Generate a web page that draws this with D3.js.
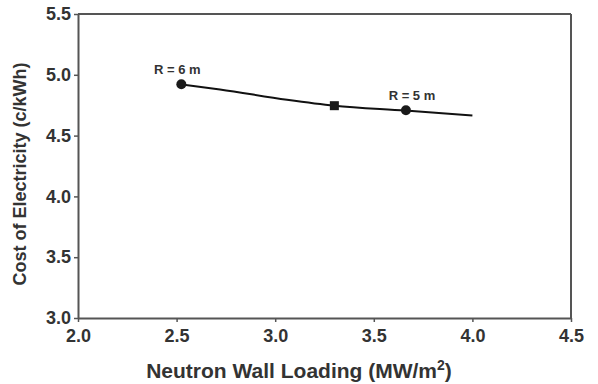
<!DOCTYPE html>
<html>
<head>
<meta charset="utf-8">
<script src="https://cdn.jsdelivr.net/npm/d3@7"></script>
<style>
  body { margin: 0; background: #fff; }
  text { font-family: "Liberation Sans", Arial, sans-serif; font-weight: bold; }
</style>
</head>
<body>
<div id="chart"></div>
<script>
// curve: neutron wall loading vs cost of electricity
const curveX = [2.52, 2.72, 3.06, 3.30, 3.66, 4.0];
const curveY = [4.922, 4.88, 4.795, 4.746, 4.706, 4.665];

const circleX = [2.524, 3.663];
const circleY = [4.922, 4.708];
const circleLabels = ["R = 6 m", "R = 5 m"];

const squareX = [3.30];
const squareY = [4.746];

const xTicks = [2.0, 2.5, 3.0, 3.5, 4.0, 4.5];
const yTicks = [3.0, 3.5, 4.0, 4.5, 5.0, 5.5];

const W = 598, H = 384;
const margin = { top: 14, right: 27, bottom: 66, left: 78 };

const svg = d3.select("#chart").append("svg")
  .attr("width", W).attr("height", H);

const x = d3.scaleLinear().domain([2.0, 4.5]).range([margin.left, W - margin.right]);
const y = d3.scaleLinear().domain([3.0, 5.5]).range([H - margin.bottom, margin.top]);

const axisColor = "#555";

// frame lines (top, right)
svg.append("line")
  .attr("x1", x(2.0)).attr("x2", x(4.5))
  .attr("y1", y(5.5)).attr("y2", y(5.5))
  .attr("stroke", axisColor).attr("stroke-width", 2);
svg.append("line")
  .attr("x1", x(4.5)).attr("x2", x(4.5))
  .attr("y1", y(5.5)).attr("y2", y(3.0))
  .attr("stroke", axisColor).attr("stroke-width", 2);

const xAxis = svg.append("g")
  .attr("transform", `translate(0,${y(3.0)})`)
  .call(d3.axisBottom(x).tickValues(xTicks).tickFormat(d3.format(".1f")).tickSizeInner(4).tickSizeOuter(0));
const yAxis = svg.append("g")
  .attr("transform", `translate(${x(2.0)},0)`)
  .call(d3.axisLeft(y).tickValues(yTicks).tickFormat(d3.format(".1f")).tickSizeInner(4).tickSizeOuter(0));

[xAxis, yAxis].forEach((g) => {
  g.select(".domain").attr("stroke", axisColor).attr("stroke-width", 2);
  g.selectAll(".tick line").attr("stroke", axisColor).attr("stroke-width", 1.5);
  g.selectAll(".tick text")
    .attr("fill", "#333")
    .style("font-size", "18px")
    .style("font-family", "Liberation Sans, Arial, sans-serif")
    .style("font-weight", "bold");
});
xAxis.selectAll(".tick text").attr("y", 11).attr("dy", "0.71em");
yAxis.selectAll(".tick text").attr("x", -7);

// curve
const pts = curveX.map((d, i) => [d, curveY[i]]);
svg.append("path")
  .datum(pts)
  .attr("fill", "none")
  .attr("stroke", "#111")
  .attr("stroke-width", 2)
  .attr("d", d3.line().x((d) => x(d[0])).y((d) => y(d[1])).curve(d3.curveMonotoneX));

// circle markers
svg.selectAll("circle.pt")
  .data(circleX)
  .enter()
  .append("circle")
  .attr("class", "pt")
  .attr("cx", (d) => x(d))
  .attr("cy", (d, i) => y(circleY[i]))
  .attr("r", 5)
  .attr("fill", "#1a1a1a");

svg.selectAll("text.lbl")
  .data(circleLabels)
  .enter()
  .append("text")
  .attr("class", "lbl")
  .attr("x", (d, i) => x(circleX[i]) + (i === 0 ? -4 : 6))
  .attr("y", (d, i) => y(circleY[i]) - 10)
  .attr("text-anchor", "middle")
  .attr("fill", "#333")
  .style("font-size", "13px")
  .text((d) => d);

// square marker
svg.selectAll("rect.sq")
  .data(squareX)
  .enter()
  .append("rect")
  .attr("class", "sq")
  .attr("x", (d) => x(d) - 4.5)
  .attr("y", (d, i) => y(squareY[i]) - 4.5)
  .attr("width", 9)
  .attr("height", 9)
  .attr("fill", "#1a1a1a");

// axis titles
svg.append("text")
  .attr("x", 299)
  .attr("y", 378)
  .attr("text-anchor", "middle")
  .attr("fill", "#333")
  .style("font-size", "21px")
  .html('Neutron Wall Loading (MW/m<tspan dy="-8" font-size="14px">2</tspan><tspan dy="8">)</tspan>');

svg.append("text")
  .attr("transform", "translate(26,174) rotate(-90)")
  .attr("text-anchor", "middle")
  .attr("fill", "#333")
  .style("font-size", "18px")
  .text("Cost of Electricity (c/kWh)");
</script>
</body>
</html>
